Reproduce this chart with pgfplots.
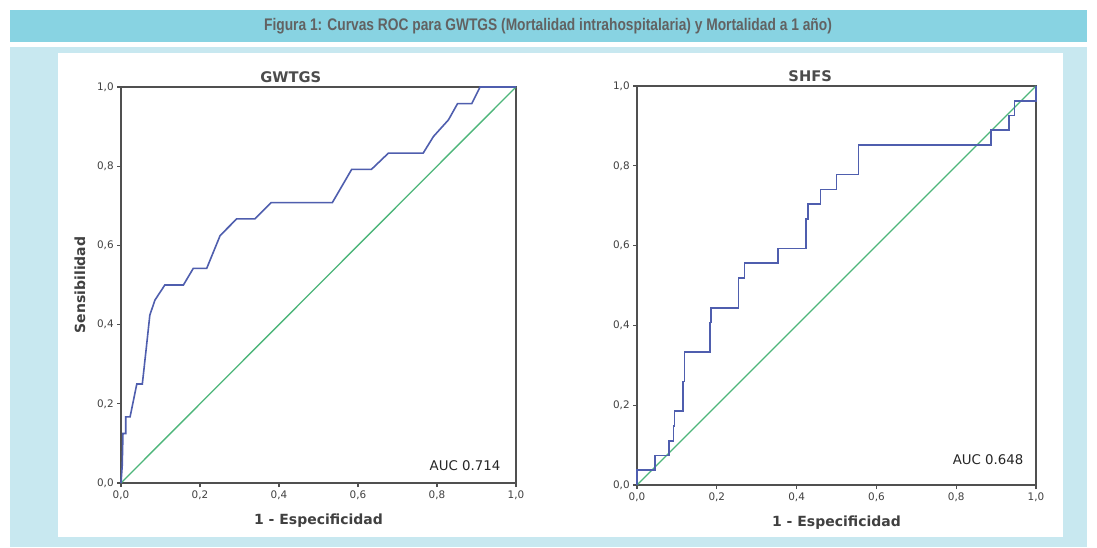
\documentclass[border=0pt]{standalone}
\usepackage{fontspec}
\setmainfont{DejaVu Sans}
\newfontfamily\headfont[FakeStretch=0.82]{Liberation Sans}
\usepackage{pgfplots}
\pgfplotsset{compat=1.18}

\definecolor{headbar}{HTML}{88D3E2}
\definecolor{panel}{HTML}{C8E8F0}
\definecolor{headtxt}{HTML}{626262}
\definecolor{roc}{HTML}{4F5EAE}
\definecolor{diag}{HTML}{4DB67A}
\definecolor{axgray}{HTML}{505050}

\pgfplotsset{
  rocaxis/.style={
    scale only axis,
    xmin=0, xmax=1, ymin=0, ymax=1,
    axis line style={draw=axgray, line width=0.9pt},
    xtick={0,0.2,0.4,0.6,0.8,1}, ytick={0,0.2,0.4,0.6,0.8,1},
    tick pos=left, tick align=outside,
    major tick length=3pt,
    tick style={draw=axgray, line width=0.8pt},
    /pgf/number format/.cd, fixed, fixed zerofill, precision=1, use comma,
    assume math mode=true,
    /pgfplots/.cd,
    ticklabel style={font=\fontsize{7.8}{9}\selectfont, text=black!75},
    xticklabel style={yshift=1pt},
    yticklabel style={xshift=1pt},
    xlabel style={font=\bfseries\fontsize{10.5}{12}\selectfont, text=black!75, yshift=-4pt},
    ylabel style={font=\bfseries\fontsize{10.5}{12}\selectfont, text=black!75, yshift=2pt},
    clip=false,
  },
}

\begin{document}
\begin{tikzpicture}[x=0.75pt, y=0.75pt]
\useasboundingbox (0,0) rectangle (1097,547);
\fill[white] (0,0) rectangle (1097,547);
\fill[headbar] (10,505) rectangle (1087,537);
\fill[panel] (10,0) rectangle (1087,500);
\fill[white] (58,10) rectangle (1063,494);
\node[font=\headfont\bfseries\fontsize{12.6}{14}\selectfont, text=headtxt] at (548,521)
  {Figura 1: Curvas ROC para GWTGS (Mortalidad intrahospitalaria) y Mortalidad a 1 año)};

% GWTGS
\begin{axis}[rocaxis,
  anchor=south west, at={(90.75pt,48pt)},
  width=296.25pt, height=297pt,
  xlabel={1 - Especificidad}, ylabel={Sensibilidad}]
\addplot[diag, line width=1pt] coordinates {(0,0) (1,1)};
\addplot[roc, line width=1.2pt] coordinates {
  (0,0) (0.003,0.042) (0.005,0.125) (0.012,0.125) (0.012,0.167)
  (0.023,0.167) (0.040,0.25) (0.054,0.25) (0.065,0.35) (0.073,0.424)
  (0.086,0.462) (0.111,0.5) (0.158,0.5) (0.183,0.542) (0.217,0.542)
  (0.251,0.625) (0.293,0.667) (0.339,0.667) (0.380,0.708) (0.535,0.708)
  (0.584,0.792) (0.634,0.792) (0.677,0.833) (0.765,0.833) (0.791,0.875)
  (0.829,0.917) (0.852,0.958) (0.888,0.958) (0.909,1) (1,1)};
\node[font=\bfseries\fontsize{11}{13}\selectfont, text=black!70, anchor=south]
  at (axis cs:0.43,1) {GWTGS};
\node[font=\fontsize{10}{12}\selectfont, text=black!85] at (axis cs:0.871,0.043) {AUC 0.714};
\end{axis}

% SHFS
\begin{axis}[rocaxis,
  anchor=south west, at={(477.75pt,46.5pt)},
  width=299.25pt, height=299.25pt,
  xlabel={1 - Especificidad}]
\addplot[diag, line width=1pt] coordinates {(0,0) (1,1)};
\addplot[roc, line width=1.2pt] coordinates {
  (0,0) (0,0.037) (0.045,0.037) (0.045,0.074) (0.080,0.074) (0.080,0.111)
  (0.091,0.111) (0.091,0.148) (0.094,0.148) (0.094,0.185) (0.116,0.185)
  (0.116,0.259) (0.119,0.259) (0.119,0.333) (0.183,0.333) (0.183,0.407)
  (0.186,0.407) (0.186,0.444) (0.254,0.444) (0.254,0.519) (0.269,0.519)
  (0.269,0.556) (0.354,0.556) (0.354,0.593) (0.423,0.593) (0.423,0.667)
  (0.428,0.667) (0.428,0.704) (0.460,0.704) (0.460,0.741) (0.500,0.741)
  (0.500,0.778) (0.555,0.778) (0.555,0.852) (0.887,0.852) (0.887,0.889)
  (0.932,0.889) (0.932,0.926) (0.946,0.926) (0.946,0.963) (1,0.963) (1,1)};
\node[font=\bfseries\fontsize{11}{13}\selectfont, text=black!70, anchor=south]
  at (axis cs:0.434,1) {SHFS};
\node[font=\fontsize{10}{12}\selectfont, text=black!85] at (axis cs:0.88,0.063) {AUC 0.648};
\end{axis}
\end{tikzpicture}
\end{document}
